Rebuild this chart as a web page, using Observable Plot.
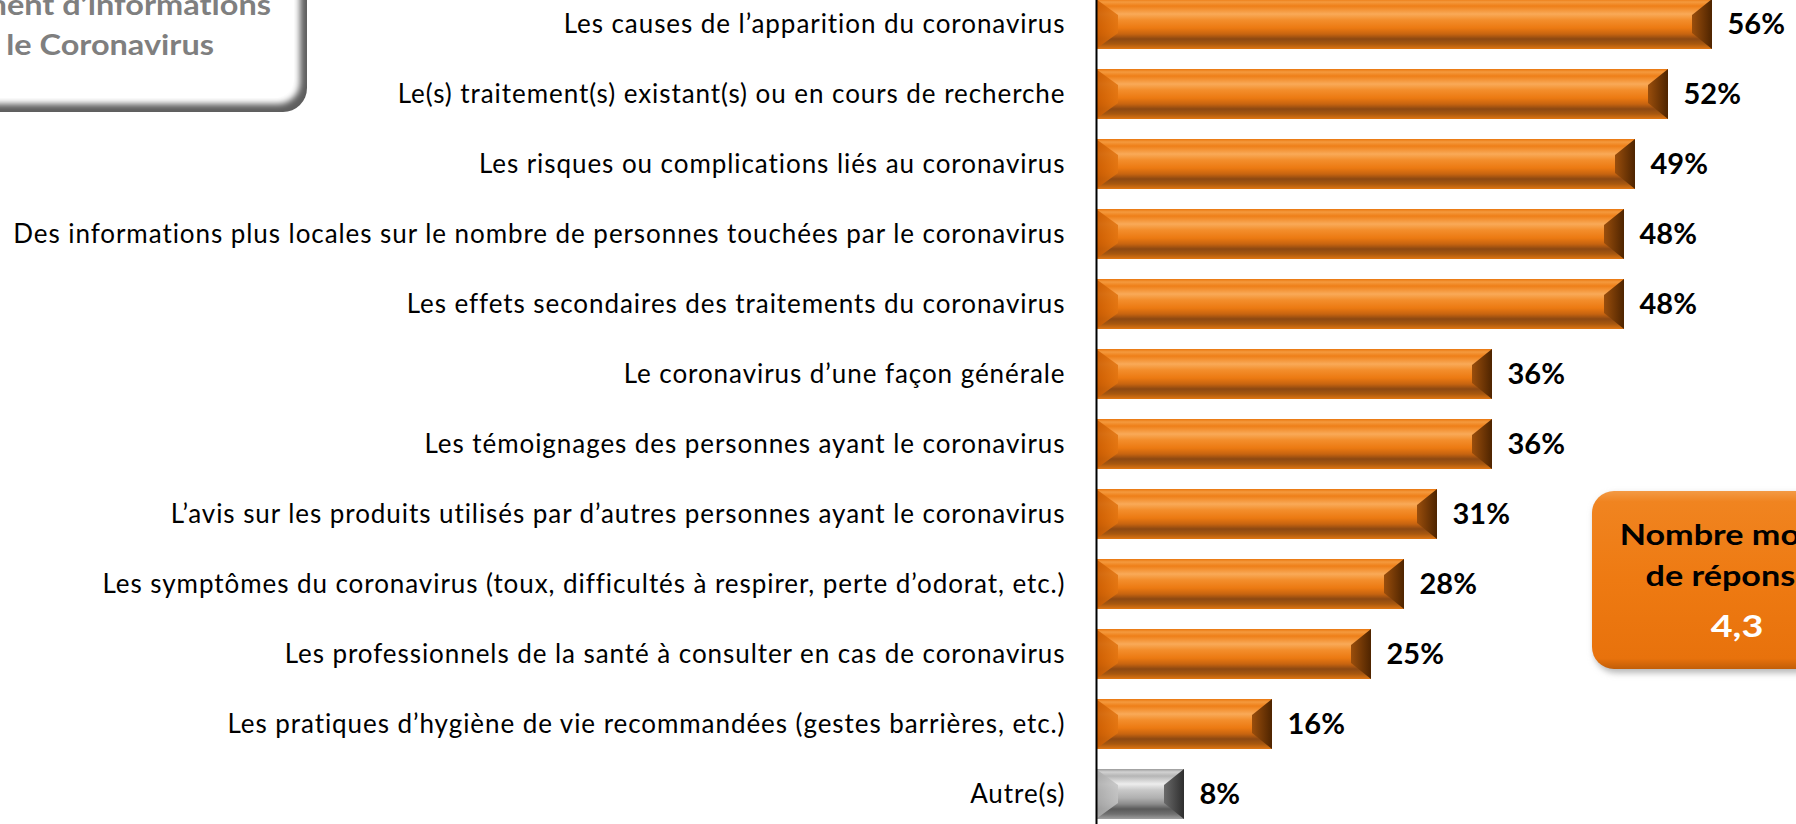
<!DOCTYPE html>
<html>
<head>
<meta charset="utf-8">
<script src="https://cdn.jsdelivr.net/npm/d3@7"></script>
<script src="https://cdn.jsdelivr.net/npm/@observablehq/plot@0.6"></script>
<style>
html, body { margin: 0; padding: 0; background: #fff; overflow: hidden; width: 1796px; height: 824px; }
#wrap { position: relative; width: 1796px; height: 824px; overflow: hidden; }
#overlay { position: absolute; left: 0; top: 0; pointer-events: none; }
svg text { font-variant-ligatures: none; }
</style>
</head>
<body>
<div id="wrap"></div>
<script>
// ---- data ----
const categories = [
  "Les causes de l’apparition du coronavirus",
  "Le(s) traitement(s) existant(s) ou en cours de recherche",
  "Les risques ou complications liés au coronavirus",
  "Des informations plus locales sur le nombre de personnes touchées par le coronavirus",
  "Les effets secondaires des traitements du coronavirus",
  "Le coronavirus d’une façon générale",
  "Les témoignages des personnes ayant le coronavirus",
  "L’avis sur les produits utilisés par d’autres personnes ayant le coronavirus",
  "Les symptômes du coronavirus (toux, difficultés à respirer, perte d’odorat, etc.)",
  "Les professionnels de la santé à consulter en cas de coronavirus",
  "Les pratiques d’hygiène de vie recommandées (gestes barrières, etc.)",
  "Autre(s)"
];
const values = [56, 52, 49, 48, 48, 36, 36, 31, 28, 25, 16, 8];
const valueLabels = values.map(v => v + "%");
const otherCategory = "Autre(s)";
const titleLines = ["complément d’informations", "sur le Coronavirus"];
const averageLines = ["Nombre moyen", "de réponses"];
const averageValue = "4,3";

const data = categories.map((c, i) => ({category: c, value: values[i], label: valueLabels[i], other: c === otherCategory}));

// ---- layout ----
const W = 1796, H = 824;
const axisX = 1096;        // pixel position of 0
const pxPerPoint = 11;     // pixels per percentage point
const xMax = (W - axisX) / pxPerPoint;
const FONT = "Lato, 'Noto Sans', sans-serif";

const labelFs = 26;
const ctx = document.createElement("canvas").getContext("2d");
ctx.font = labelFs + "px Lato";
const longestCat = categories.reduce((a, b) => ctx.measureText(b).width > ctx.measureText(a).width ? b : a);
const longestW = ctx.measureText(longestCat).width;
const letterSp = Math.max(0, Math.min(2, (1053 - longestW) / (longestCat.length - 1)));

const chart = Plot.plot({
  width: W,
  height: H,
  marginLeft: axisX,
  marginRight: 0,
  marginTop: 0,
  marginBottom: 0,
  style: {fontFamily: FONT, fontSize: labelFs + "px", color: "#000", background: "transparent"},
  x: {domain: [0, xMax], axis: null},
  y: {domain: categories, range: [-2.3, 821.3], paddingInner: 0.285, paddingOuter: 0, label: null, tickSize: 0, tickPadding: 31},
  marks: [
    Plot.barX(data, {filter: d => !d.other, x: "value", y: "category", fill: "url(#gOrange)"}),
    Plot.barX(data, {filter: d => d.other, x: "value", y: "category", fill: "url(#gGray)"}),
    Plot.barX(data, {filter: d => !d.other, x1: 0, x2: 0, y: "category", insetRight: -22, fill: "url(#gLeftCap)"}),
    Plot.barX(data, {filter: d => d.other, x1: 0, x2: 0, y: "category", insetRight: -22, fill: "url(#gLeftCapGray)"}),
    Plot.barX(data, {filter: d => !d.other, x1: "value", x2: "value", y: "category", insetLeft: -20, fill: "url(#gRightCap)"}),
    Plot.barX(data, {filter: d => d.other, x1: "value", x2: "value", y: "category", insetLeft: -20, fill: "url(#gRightCapGray)"}),
    Plot.ruleX([0], {stroke: "#000", strokeWidth: 2}),
    Plot.text(data, {x: "value", y: "category", text: "label", textAnchor: "start", dx: 15, fontWeight: "bold", fontSize: 29, fill: "#000"})
  ]
});

const svgNode = chart.tagName.toLowerCase() === "svg" ? chart : chart.querySelector("svg");
const svg = d3.select(svgNode);
const defs = svg.insert("defs", ":first-child");
function grad(id, horizontal, stops) {
  const g = defs.append("linearGradient").attr("id", id).attr("x1", 0).attr("y1", 0)
    .attr("x2", horizontal ? 1 : 0).attr("y2", horizontal ? 0 : 1);
  stops.forEach(([o, c, a]) => g.append("stop").attr("offset", o).attr("stop-color", c).attr("stop-opacity", a ?? 1));
}
grad("gOrange", false, [
  [0, "#E9760E"], [0.06, "#F49A3E"], [0.14, "#EE7F18"], [0.3, "#F9AA58"], [0.42, "#F38E2C"],
  [0.58, "#EC7A12"], [0.7, "#C86410"], [0.8, "#8C4812"], [0.9, "#A8580F"], [1, "#E07612"]
]);
grad("gGray", false, [
  [0, "#9A9A9A"], [0.06, "#D2D2D2"], [0.14, "#B5B5B5"], [0.3, "#EDEDED"], [0.42, "#C8C8C8"],
  [0.58, "#B0B0B0"], [0.7, "#8C8C8C"], [0.8, "#5A5A5A"], [0.9, "#707070"], [1, "#A0A0A0"]
]);
grad("gLeftCap", true, [[0, "#C85A00"], [1, "#E27410"]]);
grad("gLeftCapGray", true, [[0, "#A8A8A8"], [1, "#C4C4C4"]]);
grad("gRightCap", true, [[0, "#9A4E0C"], [1, "#4E2400"]]);
grad("gRightCapGray", true, [[0, "#6A6A6A"], [1, "#2E2E2E"]]);
defs.append("clipPath").attr("id", "clipL").attr("clipPathUnits", "objectBoundingBox")
  .append("polygon").attr("points", "0,0 1,0.32 1,0.68 0,1");
defs.append("clipPath").attr("id", "clipR").attr("clipPathUnits", "objectBoundingBox")
  .append("polygon").attr("points", "0,0.32 1,0 1,1 0,0.68");

const barGroups = svg.selectAll('g[aria-label="bar"]').nodes();
[2, 3].forEach(k => barGroups[k] && d3.select(barGroups[k]).selectAll("rect").attr("clip-path", "url(#clipL)").attr("opacity", 0.85));
[4, 5].forEach(k => barGroups[k] && d3.select(barGroups[k]).selectAll("rect").attr("clip-path", "url(#clipR)"));

// y-axis label letter spacing (matches the reference's wide text)
svg.selectAll('g[aria-label^="y-axis"] text').attr("letter-spacing", letterSp.toFixed(2) + "px");

const wrap = document.getElementById("wrap");
wrap.appendChild(chart);

// ---- annotations overlay ----
const ov = d3.select(wrap).append("svg").attr("id", "overlay").attr("width", W).attr("height", H);
const od = ov.append("defs");
const blur = od.append("filter").attr("id", "soft").attr("x", "-10%").attr("y", "-10%").attr("width", "120%").attr("height", "120%");
blur.append("feGaussianBlur").attr("stdDeviation", 3);
const og = od.append("linearGradient").attr("id", "gBox").attr("x1", 0).attr("y1", 0).attr("x2", 0).attr("y2", 1);
[[0, "#F39A45"], [0.06, "#F08420"], [0.5, "#EE7A12"], [0.94, "#E8720C"], [1, "#C25E08"]].forEach(([o, c]) => og.append("stop").attr("offset", o).attr("stop-color", c));

// title box (partially off-screen)
ov.append("rect").attr("x", -220).attr("y", -60).attr("width", 527).attr("height", 172).attr("rx", 24).attr("fill", "#5E5E5E");
ov.append("rect").attr("x", -224).attr("y", -64).attr("width", 524).attr("height", 168).attr("rx", 22).attr("fill", "#fff").attr("filter", "url(#soft)");
ov.append("rect").attr("x", -224).attr("y", -64).attr("width", 518).attr("height", 162).attr("rx", 20).attr("fill", "#fff");
ov.selectAll("g.title").data(titleLines).join("g")
  .attr("class", "title")
  .attr("transform", (d, i) => `translate(${i === 0 ? 271 : 214},${i === 0 ? 15 : 55}) scale(1.12,1)`)
  .append("text")
  .attr("text-anchor", "end")
  .attr("font-family", FONT)
  .attr("font-weight", "bold")
  .attr("font-size", 29)
  .attr("fill", "#7F7F7F")
  .text(d => d);

// average box (partially off-screen)
ov.append("rect").attr("x", 1594).attr("y", 494).attr("width", 300).attr("height", 179).attr("rx", 22).attr("fill", "#B8B8B8").attr("filter", "url(#soft)");
ov.append("rect").attr("x", 1592).attr("y", 491).attr("width", 300).attr("height", 178).attr("rx", 22).attr("fill", "url(#gBox)");
ov.selectAll("g.avg").data(averageLines).join("g")
  .attr("class", "avg")
  .attr("transform", (d, i) => `translate(1737,${545 + i * 41}) scale(1.22,1)`)
  .append("text")
  .attr("text-anchor", "middle")
  .attr("font-family", FONT)
  .attr("font-weight", "bold")
  .attr("font-size", 28)
  .attr("fill", "#000")
  .text(d => d);
ov.append("g")
  .attr("transform", "translate(1737,637) scale(1.22,1)")
  .append("text")
  .attr("text-anchor", "middle")
  .attr("font-family", FONT)
  .attr("font-weight", "bold")
  .attr("font-size", 31)
  .attr("fill", "#fff")
  .text(averageValue);
</script>
</body>
</html>
